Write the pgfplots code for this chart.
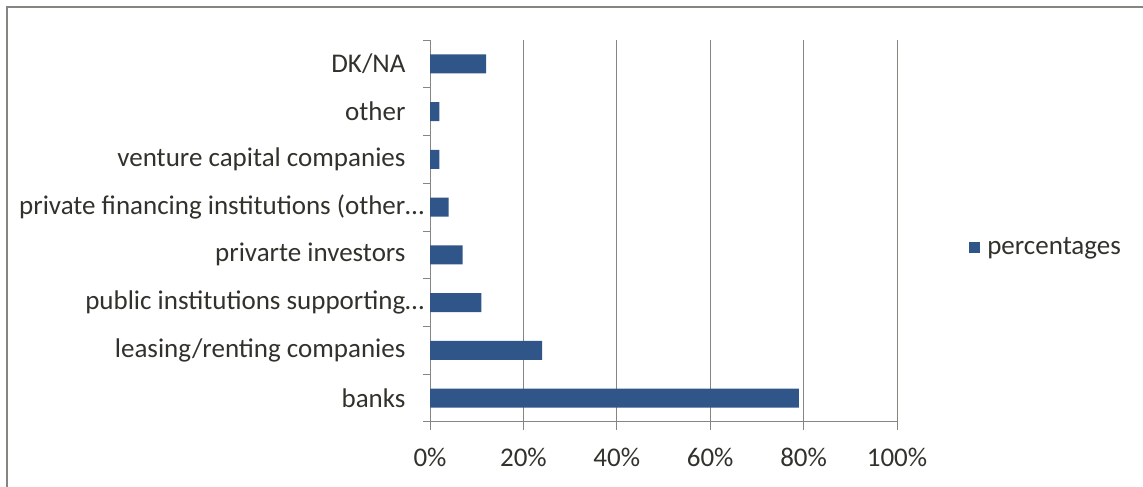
\documentclass[border=0pt]{standalone}
\usepackage{fontspec}
\setmainfont{Carlito}
\usepackage{pgfplots}
\pgfplotsset{compat=1.18}
\definecolor{barblue}{RGB}{47,85,137}
\definecolor{gridgray}{RGB}{134,134,128}
\definecolor{txt}{RGB}{50,50,45}
\begin{document}
\begin{tikzpicture}
\useasboundingbox (0,0) rectangle (1143bp,487bp);
\draw[gridgray, line width=1.5bp] (7bp,0) -- (7bp,480bp) -- (1143bp,480bp);
\begin{axis}[
 at={(430bp,65bp)}, anchor=south west,
 scale only axis, width=467bp, height=382bp,
 xmin=0, xmax=100, ymin=-0.5, ymax=7.5,
 xbar, bar width=19bp,
 axis x line*=bottom, axis y line*=left,
 axis line style={gridgray, line width=1bp},
 xtick={0,20,...,100}, xticklabels={0\%,20\%,40\%,60\%,80\%,100\%},
 ytick={0,...,7},
 yticklabels={banks, leasing/renting companies, public institutions supporting\rlap{…}, privarte investors, private financing institutions (other\rlap{…}, venture capital companies, other, DK/NA},
 minor ytick={-0.5,0.5,...,7.5},
 tick align=outside, major tick length=8bp, minor tick length=7bp,
 every major y tick/.style={draw=none},
 every minor y tick/.style={gridgray, line width=1bp},
 every major x tick/.style={gridgray, line width=1bp},
 xmajorgrids, major grid style={gridgray, line width=1bp},
 yticklabel style={xshift=-13bp},
 xticklabel style={yshift=-15bp},
 font=\fontsize{27bp}{32bp}\selectfont,
 tick label style={text=txt},
 legend style={at={(1.148,0.458)}, anchor=west, draw=none, fill=none, text=txt, font=\fontsize{27bp}{32bp}\selectfont},
 legend image code/.code={\fill[barblue] (0bp,-5.5bp) rectangle (11bp,5.5bp); \path (16bp,0bp);},
]
\addplot[fill=barblue, draw=none] coordinates {(79,0) (24,1) (11,2) (7,3) (4,4) (2,5) (2,6) (12,7)};
\addlegendentry{percentages}
\end{axis}
\end{tikzpicture}
\end{document}
